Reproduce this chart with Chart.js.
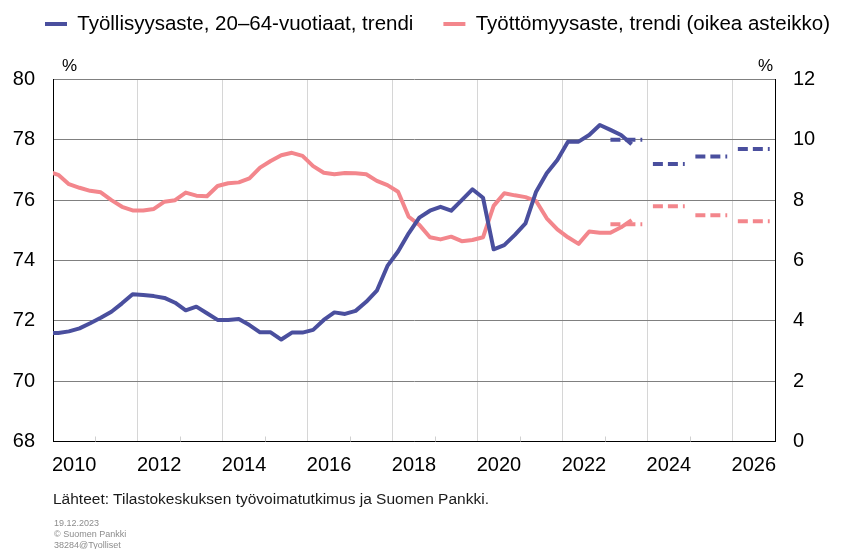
<!DOCTYPE html>
<html><head><meta charset="utf-8">
<script src="https://cdn.jsdelivr.net/npm/chart.js@4.4.0/dist/chart.umd.min.js"></script>
<style>
html,body{margin:0;padding:0;background:#fff;}
#wrap{position:relative;width:841px;height:549px;overflow:hidden;font-family:Arial,"Liberation Sans",sans-serif;}
#c{position:absolute;left:0;top:0;}
.t{position:absolute;white-space:nowrap;line-height:1;}
</style></head><body>
<div id="wrap">
<canvas id="c" width="841" height="549"></canvas>
<div class="t" style="left:62px;top:57px;font-size:17px;color:#000">%</div>
<div class="t" style="left:758px;top:57px;font-size:17px;color:#000">%</div>
<div class="t" style="left:53px;top:491px;font-size:15.5px;color:#1a1a1a">Lähteet: Tilastokeskuksen työvoimatutkimus ja Suomen Pankki.</div>
<div class="t" style="left:54px;top:519px;font-size:9px;color:#8c8c8c">19.12.2023</div>
<div class="t" style="left:54px;top:530px;font-size:9px;color:#8c8c8c">© Suomen Pankki</div>
<div class="t" style="left:54px;top:541px;font-size:9px;color:#8c8c8c">38284@Tyolliset</div>
</div>
<script>
// ---- data ----
const quarters = [
 '2009Q4',
 '2010Q1','2010Q2','2010Q3','2010Q4',
 '2011Q1','2011Q2','2011Q3','2011Q4',
 '2012Q1','2012Q2','2012Q3','2012Q4',
 '2013Q1','2013Q2','2013Q3','2013Q4',
 '2014Q1','2014Q2','2014Q3','2014Q4',
 '2015Q1','2015Q2','2015Q3','2015Q4',
 '2016Q1','2016Q2','2016Q3','2016Q4',
 '2017Q1','2017Q2','2017Q3','2017Q4',
 '2018Q1','2018Q2','2018Q3','2018Q4',
 '2019Q1','2019Q2','2019Q3','2019Q4',
 '2020Q1','2020Q2','2020Q3','2020Q4',
 '2021Q1','2021Q2','2021Q3','2021Q4',
 '2022Q1','2022Q2','2022Q3','2022Q4',
 '2023Q1','2023Q2','2023Q3'
];
const employmentRate = [
 71.60,
 71.60,71.65,71.75,71.92,
 72.10,72.30,72.58,72.88,
 72.86,72.82,72.76,72.60,
 72.35,72.47,72.25,72.03,
 72.03,72.06,71.86,71.62,
 71.62,71.38,71.61,71.61,
 71.70,72.03,72.28,72.23,
 72.33,72.63,73.00,73.82,
 74.30,74.90,75.42,75.65,
 75.78,75.65,76.00,76.36,
 76.08,74.37,74.51,74.85,
 75.23,76.28,76.89,77.33,
 77.94,77.94,78.16,78.49,
 78.33,78.16,77.85
];
const unemploymentRate = [
 8.95,
 8.84,8.53,8.41,8.31,
 8.26,8.00,7.78,7.66,
 7.66,7.71,7.95,8.00,
 8.25,8.15,8.13,8.47,
 8.56,8.59,8.72,9.08,
 9.30,9.49,9.57,9.47,
 9.13,8.91,8.86,8.90,
 8.89,8.86,8.64,8.50,
 8.28,7.45,7.18,6.77,
 6.70,6.79,6.64,6.68,
 6.77,7.81,8.23,8.16,
 8.10,7.97,7.40,7.03,
 6.77,6.55,6.96,6.92,
 6.92,7.10,7.34
];
const forecastYears = [2023, 2024, 2025, 2026];
const employmentForecast = [78.0, 77.2, 77.45, 77.7];
const unemploymentForecast = [7.2, 7.8, 7.5, 7.3];
const yearLabels = [2010, 2012, 2014, 2016, 2018, 2020, 2022, 2024, 2026];
const leftTicks = [68, 70, 72, 74, 76, 78, 80];
const rightTicks = [0, 2, 4, 6, 8, 10, 12];
const seriesNames = ['Työllisyysaste, 20–64-vuotiaat, trendi', 'Työttömyysaste, trendi (oikea asteikko)'];

// ---- build ----
const BLUE = '#4a4f9e', PINK = '#f3868c';
const toX = q => +q.slice(0, 4) + (+q.slice(5) - 0.5) / 4;
const series = vals => quarters.map((q, i) => ({x: toX(q), y: vals[i]}));
const forecast = vals => {
  const out = [];
  forecastYears.forEach((yr, i) => {
    out.push({x: yr + 0.125, y: vals[i]}, {x: yr + 0.875, y: vals[i]}, {x: yr + 1, y: null});
  });
  return out;
};

const CHART_TOP = 79.5, CHART_BOTTOM = 441.5, CHART_LEFT = 53, CHART_RIGHT = 775;
const XH = 30;
const LEG_PAD = 30, LEG_START_X = 45, LEG_SHIFT_Y = -16.25;

Chart.defaults.font.family = 'Arial, "Liberation Sans", sans-serif';
Chart.defaults.color = '#000';

const legendFix = {
  id: 'legendFix',
  beforeInit(chart) {
    const lg = chart.legend;
    const orig = lg.fit;
    lg.fit = function () {
      const mw = lg.maxWidth;
      lg.maxWidth = 3000;
      orig.call(lg);
      lg.maxWidth = mw;
      lg.width = mw;
      lg.height = CHART_TOP;
    };
  },
  afterLayout(chart) {
    const lg = chart.legend;
    lg.left = LEG_START_X - LEG_PAD; lg.right = 3000;
    lg.top += LEG_SHIFT_Y; lg.bottom += LEG_SHIFT_Y;
  }
};
const minorTicks = {
  id: 'minorTicks',
  afterDatasetsDraw(chart) {
    const x = chart.scales.x, ca = chart.chartArea, ctx = chart.ctx;
    ctx.save();
    ctx.strokeStyle = '#d0d0d0';
    ctx.lineWidth = 1;
    for (let yr = 2011; yr < 2027; yr += 2) {
      const px = Math.round(x.getPixelForValue(yr)) + 0.5;
      ctx.beginPath(); ctx.moveTo(px, ca.bottom); ctx.lineTo(px, ca.bottom - 5); ctx.stroke();
    }
    ctx.restore();
  }
};

const lineBase = {pointRadius: 0, borderWidth: 4, tension: 0, borderJoinStyle: 'round', clip: 0, fill: false};

new Chart(document.getElementById('c'), {
  type: 'line',
  data: {
    datasets: [
      Object.assign({label: seriesNames[0], data: series(employmentRate), borderColor: BLUE, backgroundColor: BLUE, yAxisID: 'y'}, lineBase),
      Object.assign({label: seriesNames[1], data: series(unemploymentRate), borderColor: PINK, backgroundColor: PINK, yAxisID: 'y2'}, lineBase),
      Object.assign({label: 'f1', data: forecast(employmentForecast), borderColor: BLUE, backgroundColor: BLUE, yAxisID: 'y', borderDash: [10, 5], spanGaps: false}, lineBase),
      Object.assign({label: 'f2', data: forecast(unemploymentForecast), borderColor: PINK, backgroundColor: PINK, yAxisID: 'y2', borderDash: [10, 5], spanGaps: false}, lineBase)
    ]
  },
  options: {
    responsive: false, animation: false, devicePixelRatio: 1,
    layout: {padding: {left: 0, right: 0, top: 0, bottom: 549 - CHART_BOTTOM - XH}},
    plugins: {
      tooltip: {enabled: false},
      legend: {
        display: true, position: 'top', align: 'start',
        labels: {
          boxWidth: 22, boxHeight: 4, padding: LEG_PAD, color: '#000',
          font: {size: 20.5},
          generateLabels(chart) {
            return Chart.defaults.plugins.legend.labels.generateLabels(chart)
              .filter(l => l.datasetIndex < 2)
              .map(l => Object.assign(l, {lineWidth: 0, fillStyle: l.strokeStyle, lineDash: []}));
          }
        }
      }
    },
    scales: {
      x: {
        type: 'linear', min: 2010, max: 2027,
        afterBuildTicks(s) {
          const t = [];
          for (let v = 2010; v <= 2027; v += 0.5) t.push({value: v});
          s.ticks = t;
        },
        afterFit(s) { s.height = XH; },
        ticks: {
          autoSkip: false, maxRotation: 0, minRotation: 0, padding: 12,
          font: {size: 20}, color: '#000',
          callback(v) { const y = v - 0.5; return yearLabels.includes(y) ? String(y) : ''; }
        },
        grid: {
          drawTicks: false, lineWidth: 1,
          color(ctx) {
            const v = ctx.tick ? ctx.tick.value : null;
            return (v !== null && v > 2010 && v < 2027 && Number.isInteger(v) && v % 2 === 0) ? '#d6d6d6' : 'rgba(0,0,0,0)';
          }
        },
        border: {color: '#000', width: 1}
      },
      y: {
        position: 'left', min: 68, max: 80,
        afterBuildTicks(s) { s.ticks = leftTicks.map(v => ({value: v})); },
        afterFit(s) { s.width = CHART_LEFT; },
        ticks: {font: {size: 20}, color: '#000', padding: 18},
        grid: {color: '#808080', lineWidth: 1, drawTicks: false},
        border: {color: '#000', width: 1}
      },
      y2: {
        position: 'right', min: 0, max: 12,
        afterBuildTicks(s) { s.ticks = rightTicks.map(v => ({value: v})); },
        afterFit(s) { s.width = 841 - CHART_RIGHT; },
        ticks: {font: {size: 20}, color: '#000', padding: 18},
        grid: {drawOnChartArea: false, drawTicks: false},
        border: {color: '#000', width: 1}
      }
    }
  },
  plugins: [legendFix, minorTicks]
});
</script>
</body></html>
